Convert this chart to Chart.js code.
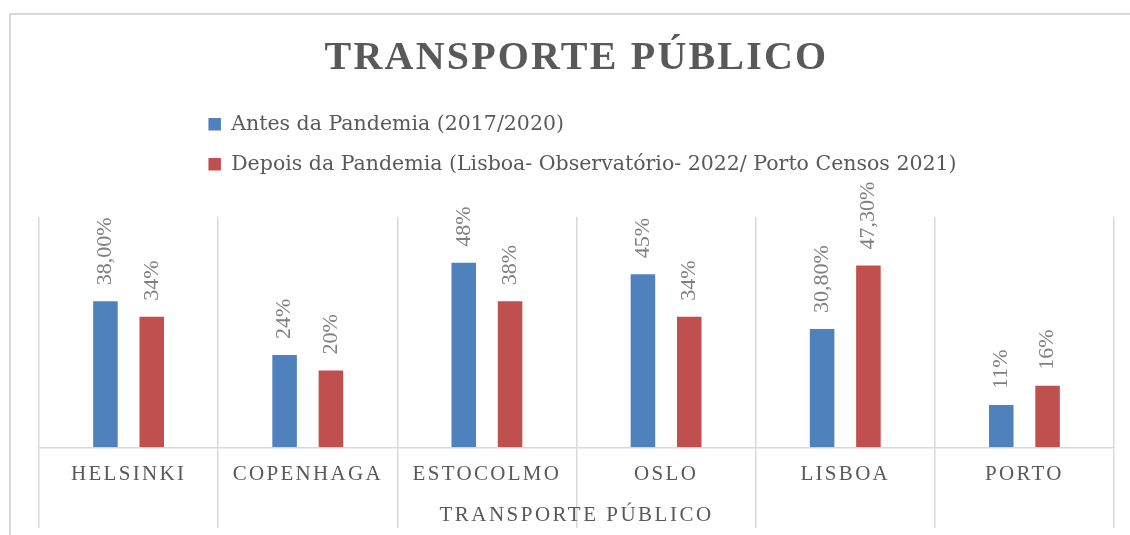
<!DOCTYPE html>
<html lang="pt">
<head>
<meta charset="utf-8">
<title>Transporte Público</title>
<script src="https://cdn.jsdelivr.net/npm/chart.js@4.4.1/dist/chart.umd.min.js"></script>
<style>
  html, body { margin: 0; padding: 0; background: #ffffff; overflow: hidden; }
  #frame { position: absolute; left: 9px; top: 13px; width: 1300px; height: 700px;
           border-left: 2px solid #d9d9d9; border-top: 2px solid #d9d9d9; }
  #wrap { position: absolute; left: 0; top: 0; width: 1130px; height: 535px; }
</style>
</head>
<body>
<div id="frame"></div>
<div id="wrap"><canvas id="chart" width="1130" height="535"></canvas></div>
<script>
// ---- data ----
const categorias = ['HELSINKI', 'COPENHAGA', 'ESTOCOLMO', 'OSLO', 'LISBOA', 'PORTO'];
const serieAntesNome = 'Antes da Pandemia (2017/2020)';
const serieDepoisNome = 'Depois da Pandemia (Lisboa- Observatório- 2022/ Porto Censos 2021)';
const antes = [38, 24, 48, 45, 30.8, 11];          // %
const depois = [34, 20, 38, 34, 47.3, 16];         // %
const antesDecimais = [2, 0, 0, 0, 2, 0];          // casas decimais mostradas nos rótulos
const depoisDecimais = [0, 0, 0, 0, 2, 0];
const tituloGrafico = 'TRANSPORTE PÚBLICO';
const tituloEixo = 'TRANSPORTE PÚBLICO';

function formatPct(v, dec) {
  return v.toFixed(dec).replace('.', ',') + '%';
}

// rotated value labels above each bar
const barValueLabels = {
  id: 'barValueLabels',
  afterDatasetsDraw(chart, args, opts) {
    const ctx = chart.ctx;
    chart.data.datasets.forEach((ds, di) => {
      const meta = chart.getDatasetMeta(di);
      meta.data.forEach((bar, i) => {
        const text = formatPct(ds.data[i], ds.labelDecimals[i]);
        ctx.save();
        ctx.translate(bar.x, bar.y - opts.gap);
        ctx.rotate(-Math.PI / 2);
        ctx.font = opts.font;
        ctx.fillStyle = opts.color;
        ctx.textAlign = 'left';
        ctx.textBaseline = 'middle';
        ctx.fillText(text, 0, 0);
        ctx.restore();
      });
    });
  }
};

// letter spacing for title, category labels and axis title
const letterSpacing = {
  id: 'letterSpacing',
  beforeDraw(chart, args, opts) {
    if (chart.$spacedDone) return;
    chart.$spacedDone = true;
    const wrap = (obj, fn, sp) => {
      if (!obj || !obj[fn]) return;
      const orig = obj[fn];
      obj[fn] = function (...a) {
        const c = chart.ctx;
        c.save();
        c.letterSpacing = sp;
        const r = orig.apply(this, a);
        c.restore();
        return r;
      };
    };
    wrap(chart.titleBlock, 'draw', opts.title);
    wrap(chart.scales.x, 'drawLabels', opts.ticks);
    wrap(chart.scales.x, 'drawTitle', opts.axisTitle);
  }
};

// legend rows left-aligned as one block centred over the plot
const legendBlock = {
  id: 'legendBlock',
  afterLayout(chart, args, opts) {
    const lg = chart.legend;
    if (!lg || !lg.lineWidths) return;
    const pad = lg.options.labels.padding;
    const blockW = Math.max(...lg.lineWidths) - pad;
    const centre = (chart.chartArea.left + chart.chartArea.right) / 2;
    lg.left = centre - blockW / 2 - pad + (opts.shift || 0);
  }
};

new Chart(document.getElementById('chart'), {
  type: 'bar',
  data: {
    labels: categorias,
    datasets: [
      { label: serieAntesNome, data: antes, labelDecimals: antesDecimais,
        backgroundColor: '#4f81bd', borderWidth: 0 },
      { label: serieDepoisNome, data: depois, labelDecimals: depoisDecimais,
        backgroundColor: '#c0504d', borderWidth: 0 }
    ]
  },
  plugins: [barValueLabels, letterSpacing, legendBlock],
  options: {
    responsive: false,
    animation: false,
    categoryPercentage: 0.517,
    barPercentage: 0.53,
    layout: { padding: { left: 39, right: 16, top: 14, bottom: 0 } },
    plugins: {
      title: {
        display: true, text: tituloGrafico, color: '#595959',
        font: { family: 'Liberation Serif', size: 40, weight: 'bold', lineHeight: 1.2 },
        padding: { top: 20.3, bottom: 12.25 }
      },
      subtitle: {
        display: true, text: '', weight: 500,
        font: { size: 10, lineHeight: 1 },
        padding: { top: 0, bottom: 22.15 }
      },
      legend: {
        position: 'top', align: 'start',
        labels: {
          boxWidth: 12.5, boxHeight: 12.5, padding: 19.5, color: '#595959',
          font: { family: 'DejaVu Serif', size: 20.5 }
        }
      },
      legendBlock: { shift: 6 },
      tooltip: { enabled: false },
      barValueLabels: { gap: 16, color: '#808080', font: '22px "Liberation Serif"' },
      letterSpacing: { title: '2.2px', ticks: '2.3px', axisTitle: '2.5px' }
    },
    scales: {
      x: {
        offset: true,
        grid: { offset: true, color: '#d9d9d9', lineWidth: 1.5, drawTicks: true,
                tickLength: 80.7, tickColor: '#d9d9d9', tickWidth: 1.5 },
        border: { display: true, color: '#d9d9d9', width: 1.5 },
        ticks: { color: '#595959', font: { family: 'Liberation Serif', size: 21 },
                 padding: -66.1, maxRotation: 0, minRotation: 0, autoSkip: false },
        title: { display: true, text: tituloEixo, color: '#595959',
                 font: { family: 'Liberation Serif', size: 21 },
                 padding: { top: 81.7, bottom: 7.1 } }
      },
      y: { display: false, min: 0, max: 60 }
    }
  }
});
</script>
</body>
</html>
